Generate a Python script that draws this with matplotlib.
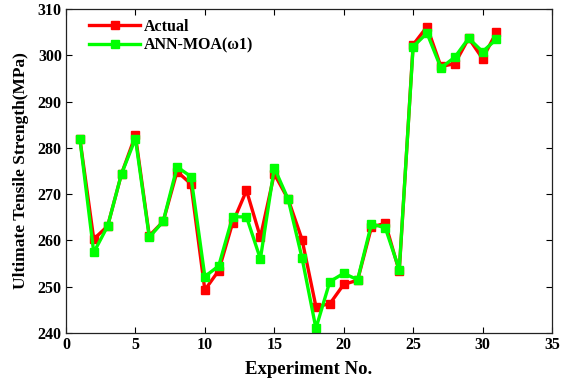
import matplotlib
matplotlib.use('Agg')
import matplotlib.pyplot as plt

plt.rcParams['font.family'] = ['Liberation Serif', 'DejaVu Serif']
plt.rcParams['font.weight'] = 'bold'

experiment = list(range(1, 32))
actual = [282.0, 260.3, 263.1, 274.4, 282.7, 261.0, 264.1, 274.9, 272.2, 249.3,
          253.5, 263.8, 270.8, 260.7, 274.4, 268.9, 260.2, 245.7, 246.3, 250.5,
          251.4, 262.9, 263.7, 253.3, 302.3, 306.2, 297.6, 298.2, 303.7, 299.3,
          305.0]
ann_moa = [282.0, 257.4, 263.1, 274.4, 282.0, 260.7, 264.1, 275.9, 273.8, 252.2,
           254.5, 265.1, 265.1, 256.0, 275.7, 268.9, 256.2, 241.0, 251.1, 252.9,
           251.5, 263.6, 262.7, 253.7, 301.9, 304.8, 297.3, 299.6, 303.7, 300.8,
           303.5]

fig = plt.figure(figsize=(5.62, 3.79), dpi=100)
ax = fig.add_axes([0.1174, 0.1214, 0.8648, 0.8546])

ax.plot(experiment, actual, color='#ff0000', lw=2.4, marker='s', ms=5.5,
        label='Actual')
ax.plot(experiment, ann_moa, color='#00ff00', lw=2.4, marker='s', ms=5.5,
        label='ANN-MOA(ω1)')

ax.set_xlim(0, 35)
ax.set_ylim(240, 310)
ax.set_xticks(range(0, 36, 5))
ax.set_yticks(range(240, 311, 10))
ax.tick_params(direction='in', top=True, right=True, labelsize=11.5, length=4,
               width=0.8, pad=3)
for s in ax.spines.values():
    s.set_linewidth(0.9)
    s.set_color('#222222')

ax.set_xlabel('Experiment No.', fontsize=13.5, fontweight='bold', labelpad=6)
ax.set_ylabel('Ultimate Tensile Strength(MPa)', fontsize=12.5,
              fontweight='bold', labelpad=6)

leg = ax.legend(loc='upper left', frameon=False, fontsize=11.5,
                handlelength=3.2, borderaxespad=0.0, labelspacing=0.15,
                handletextpad=0.2, bbox_to_anchor=(0.035, 0.99))

fig.savefig('out.png', dpi=100)
